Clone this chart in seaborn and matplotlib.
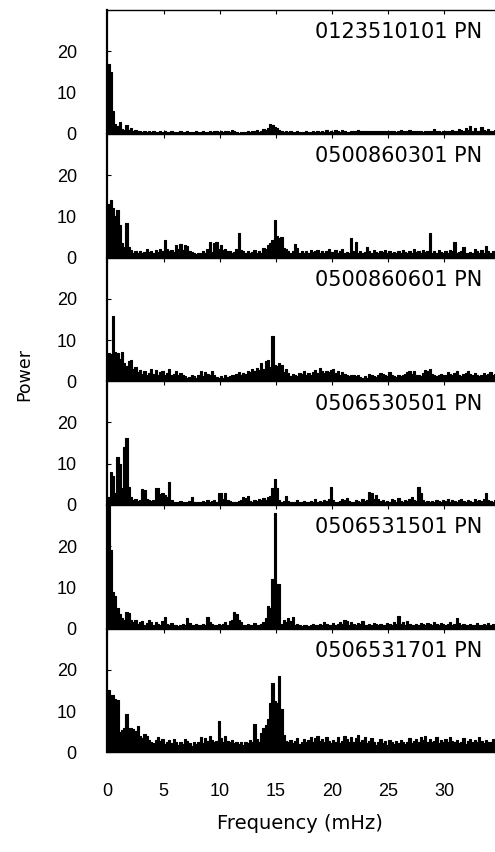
import numpy as np
import pandas as pd
import matplotlib
matplotlib.use('Agg')
import matplotlib.pyplot as plt
import seaborn as sns

sns.set_style('ticks', {'axes.edgecolor': 'black', 'xtick.color': 'black',
                        'ytick.color': 'black', 'text.color': 'black'})
plt.rcParams['font.family'] = ['DejaVu Sans']

# frequency bins (mHz), 0.2 mHz wide
bin_width = 0.2
n_bins = 174

obs_ids = ['0123510101 PN', '0500860301 PN', '0500860601 PN',
           '0506530501 PN', '0506531501 PN', '0506531701 PN']

# power per bin (10 bins = 2 mHz per row)
p1 = [17, 15, 5.5, 2.5, 2, 3, 1.2, 1, 2.2, 1,
      1.5, 0.8, 1, 0.6, 0.8, 0.5, 0.6, 0.4, 0.7, 0.5,
      0.6, 0.5, 0.4, 0.7, 0.5, 0.6, 0.4, 0.5, 0.8, 0.5,
      0.5, 0.4, 0.6, 0.5, 0.4, 0.6, 0.5, 0.4, 0.5, 0.6,
      0.4, 0.5, 0.7, 0.5, 0.4, 0.6, 0.5, 0.8, 0.6, 0.5,
      0.6, 0.5, 0.8, 0.6, 0.5, 1.0, 0.6, 0.5, 0.3, 0.4,
      0.5, 0.4, 0.6, 0.5, 0.8, 0.6, 0.9, 0.5, 0.7, 1.2,
      0.9, 1.5, 2.5, 2.2, 1.6, 1.4, 1.0, 0.6, 0.5, 0.6,
      0.5, 0.6, 0.5, 0.4, 0.6, 0.5, 0.5, 0.4, 0.6, 0.5,
      0.4, 0.6, 0.5, 0.7, 0.5, 0.6, 0.4, 0.9, 0.5, 0.6,
      0.5, 1.0, 0.6, 0.5, 0.9, 0.6, 0.5, 0.4, 0.6, 0.7,
      0.6, 0.9, 0.7, 0.6, 0.8, 0.7, 0.6, 0.8, 0.7, 0.6,
      0.7, 0.8, 0.6, 0.7, 0.6, 0.8, 0.7, 0.6, 0.5, 0.7,
      0.9, 0.7, 0.6, 0.8, 1.0, 0.7, 0.6, 0.8, 0.6, 0.7,
      0.5, 0.6, 0.8, 0.7, 0.6, 1.1, 0.7, 0.6, 0.5, 0.7,
      0.6, 0.8, 0.6, 1.0, 0.7, 0.8, 1.2, 0.9, 0.6, 1.5,
      1.0, 1.8, 0.8, 1.4, 0.7, 0.6, 1.6, 0.9, 0.7, 1.2,
      0.8, 0.6, 1.0, 0.7]

p2 = [13, 14, 12, 10, 11.5, 8, 3.5, 2.5, 8.4, 2.5,
      1.8, 1.2, 1.5, 1.0, 1.6, 1.2, 1.4, 2.0, 1.3, 1.5,
      1.2, 1.8, 1.4, 2.2, 1.6, 4.3, 2.0, 1.5, 1.8, 1.4,
      3.0, 2.2, 3.2, 1.8, 3.0, 2.8, 1.5, 1.3, 1.0, 0.8,
      1.2, 1.0, 1.6, 1.2, 2.0, 3.8, 1.4, 3.6, 3.8, 2.2,
      3.0, 1.8, 2.2, 1.6, 1.5, 1.2, 1.4, 2.2, 6.0, 1.8,
      1.5, 1.2, 1.6, 1.0, 1.4, 1.8, 1.2, 1.5, 1.0, 2.4,
      2.2, 3.0, 3.6, 4.2, 9.2, 5.2, 4.8, 5.0, 2.4, 2.0,
      1.5, 1.2, 1.6, 3.4, 2.4, 1.2, 1.5, 1.0, 1.6, 1.2,
      1.8, 1.4, 1.5, 1.8, 1.0, 1.6, 1.2, 1.5, 2.0, 1.3,
      1.4, 1.8, 1.0, 1.6, 2.2, 1.2, 1.4, 1.0, 4.8, 1.5,
      3.8, 1.2, 1.5, 1.0, 1.4, 2.6, 1.6, 1.2, 1.8, 1.4,
      1.0, 1.5, 1.3, 1.8, 1.2, 1.5, 1.0, 1.4, 1.2, 1.6,
      1.2, 1.8, 1.4, 1.0, 1.5, 1.2, 2.0, 1.4, 1.5, 1.2,
      1.8, 1.4, 1.6, 6.0, 1.2, 1.5, 1.0, 1.8, 1.4, 1.2,
      1.6, 1.2, 1.8, 1.5, 3.8, 1.2, 1.4, 1.6, 2.6, 1.2,
      1.0, 1.4, 1.2, 2.2, 1.5, 1.0, 1.8, 1.2, 2.8, 1.5,
      1.2, 1.6, 1.0, 1.4]

p3 = [6.8, 6.5, 15.8, 7, 6.8, 5.5, 7.2, 4.4, 3.8, 4.8,
      5.2, 3.0, 3.4, 2.2, 2.8, 1.8, 2.5, 1.5, 2.0, 3.0,
      1.8, 2.8, 1.5, 2.2, 2.5, 1.6, 2.0, 3.0, 1.4, 1.8,
      2.6, 1.5, 2.0, 1.4, 1.2, 0.8, 1.0, 1.4, 1.2, 0.9,
      1.6, 2.5, 1.2, 2.2, 1.8, 1.4, 2.6, 1.5, 1.0, 0.8,
      1.2, 0.9, 1.4, 1.0, 1.2, 1.6, 1.5, 1.8, 2.2, 1.6,
      2.0, 1.8, 2.4, 2.2, 3.0, 2.5, 3.2, 2.8, 4.5, 3.0,
      4.8, 5.2, 3.5, 11.0, 4.0, 3.6, 4.4, 4.0, 2.2, 3.0,
      2.0, 1.2, 1.8, 1.5, 1.2, 2.0, 1.8, 2.4, 1.6, 2.0,
      1.5, 2.2, 2.8, 2.0, 3.2, 2.6, 2.0, 2.4, 2.2, 2.8,
      3.0, 2.0, 2.4, 1.6, 2.2, 1.8, 1.4, 1.2, 1.6, 1.5,
      1.2, 1.4, 1.0, 0.8, 1.2, 0.9, 1.8, 1.4, 1.2, 1.0,
      1.5, 2.0, 1.8, 1.5, 1.2, 2.2, 1.6, 1.2, 1.0, 1.4,
      1.2, 1.6, 1.8, 2.2, 2.6, 1.8, 2.4, 1.6, 1.4, 1.2,
      2.0, 2.8, 2.4, 3.0, 1.8, 1.6, 1.2, 1.4, 1.8, 1.5,
      1.6, 2.2, 1.8, 1.4, 2.0, 2.4, 1.6, 1.2, 1.8, 2.0,
      2.6, 1.8, 1.4, 2.0, 1.6, 1.2, 1.5, 2.0, 1.6, 1.8,
      2.2, 1.4, 1.8, 1.2]

p4 = [2.0, 8.0, 7.0, 3.0, 11.6, 10.0, 4.0, 14.0, 16.2, 4.4,
      2.0, 1.2, 1.5, 1.0, 1.2, 3.8, 3.6, 1.5, 1.2, 1.0,
      1.2, 4.2, 4.0, 2.6, 2.8, 2.4, 2.0, 5.5, 1.2, 0.8,
      0.6, 0.8, 1.0, 0.6, 0.8, 0.7, 1.0, 2.0, 0.8, 0.6,
      0.7, 0.6, 0.9, 0.8, 1.2, 0.7, 1.0, 1.2, 0.8, 2.8,
      2.8, 1.4, 3.0, 1.2, 1.0, 0.8, 0.6, 0.8, 1.0, 1.2,
      2.0, 1.8, 2.2, 1.0, 0.8, 1.2, 1.0, 1.5, 1.2, 1.8,
      1.2, 2.0, 2.2, 4.0, 6.4, 4.0, 1.2, 0.8, 1.0, 2.2,
      1.0, 0.8, 0.6, 0.8, 1.2, 0.8, 0.6, 1.0, 0.8, 0.7,
      1.0, 0.8, 1.5, 0.8, 1.0, 0.8, 1.2, 1.0, 1.4, 4.4,
      1.2, 0.8, 0.6, 1.0, 1.5, 1.2, 1.6, 1.0, 0.8, 0.6,
      1.2, 1.0, 0.8, 1.4, 1.0, 1.2, 3.2, 3.0, 1.5, 2.5,
      1.5, 1.0, 1.2, 0.8, 1.0, 0.8, 1.4, 1.2, 0.8, 1.6,
      1.0, 0.8, 1.2, 1.0, 1.4, 2.0, 1.2, 1.0, 4.4, 3.0,
      1.2, 0.8, 1.0, 0.6, 1.0, 0.8, 1.2, 1.0, 0.8, 1.2,
      1.0, 1.4, 0.8, 1.2, 1.0, 0.8, 1.2, 1.4, 1.0, 0.8,
      1.2, 1.0, 0.8, 1.5, 1.0, 1.2, 1.0, 1.4, 2.8, 1.2,
      1.0, 0.8, 1.2, 2.2]

p5 = [30, 19, 9.0, 8.0, 5.0, 3.5, 2.5, 2.0, 4.0, 3.8,
      2.0, 1.5, 2.2, 1.2, 1.5, 1.8, 1.0, 1.4, 2.2, 1.6,
      1.0, 1.5, 1.2, 0.8, 1.8, 2.8, 1.2, 1.0, 1.4, 0.8,
      1.0, 0.6, 0.8, 1.2, 1.0, 2.5, 1.4, 0.8, 1.0, 1.2,
      0.8, 1.0, 1.2, 1.0, 2.8, 1.5, 1.2, 0.8, 1.0, 1.2,
      0.8, 1.2, 1.5, 1.0, 1.8, 2.2, 4.0, 3.5, 2.2, 1.5,
      1.0, 0.8, 1.2, 1.0, 0.8, 1.4, 1.0, 0.8, 1.2, 1.5,
      2.5, 5.6, 5.0, 12.0, 28.0, 10.8, 10.8, 1.2, 2.0, 1.5,
      2.5, 1.8, 2.8, 1.0, 1.2, 0.8, 0.6, 0.8, 1.0, 0.7,
      0.8, 1.2, 1.0, 0.8, 1.2, 1.0, 1.5, 1.2, 0.8, 1.0,
      1.4, 1.0, 1.2, 1.6, 1.2, 2.2, 1.8, 1.0, 1.5, 1.2,
      1.0, 1.4, 1.2, 1.8, 1.0, 0.8, 1.2, 1.0, 1.4, 1.2,
      1.0, 1.2, 0.8, 1.0, 1.4, 1.2, 1.0, 1.6, 1.2, 3.0,
      1.2, 1.5, 1.0, 1.8, 1.2, 1.0, 0.8, 1.2, 1.0, 1.4,
      1.2, 1.0, 1.4, 1.2, 1.0, 1.6, 1.2, 1.0, 1.4, 1.2,
      1.0, 1.2, 1.5, 1.0, 1.2, 2.5, 1.4, 1.0, 1.2, 0.8,
      1.0, 1.2, 0.8, 1.0, 1.4, 1.0, 0.8, 1.2, 1.0, 1.4,
      1.0, 1.2, 0.8, 1.0]

p6 = [15, 14, 14, 13, 12.8, 5.0, 5.5, 6.0, 9.2, 5.8,
      5.8, 5.6, 5.2, 6.4, 4.0, 3.5, 4.5, 4.0, 3.0, 2.6,
      2.2, 3.0, 3.6, 2.8, 3.2, 2.0, 2.6, 3.0, 2.2, 3.2,
      2.4, 1.8, 2.6, 2.0, 3.2, 2.8, 2.2, 1.6, 2.4, 2.0,
      2.6, 3.6, 2.2, 3.4, 2.8, 4.0, 3.0, 2.4, 2.8, 7.6,
      3.4, 2.6, 4.0, 2.8, 2.4, 3.0, 2.2, 2.6, 2.0, 2.4,
      1.8, 2.6, 2.2, 3.0, 2.4, 6.8, 3.2, 2.6, 4.8, 5.8,
      6.6, 8.0, 12.0, 16.9, 12.4, 12.0, 18.5, 10.4, 4.2, 2.8,
      2.4, 3.0, 2.2, 2.8, 3.4, 2.0, 2.6, 3.2, 2.4, 3.0,
      3.8, 2.6, 3.4, 4.0, 2.8, 3.2, 2.4, 3.6, 2.8, 2.2,
      3.0, 2.4, 3.6, 2.2, 2.8, 4.0, 3.2, 2.6, 3.8, 2.4,
      3.4, 4.2, 2.6, 3.0, 3.8, 2.2, 2.8, 3.4, 2.4, 1.8,
      2.6, 3.2, 2.2, 2.8, 1.8, 3.0, 2.4, 2.0, 2.8, 2.2,
      3.0, 2.6, 2.0, 2.4, 3.4, 2.2, 2.8, 3.2, 2.6, 3.6,
      3.0, 4.0, 2.6, 3.2, 2.4, 2.8, 3.6, 2.2, 3.0, 2.6,
      3.2, 2.4, 3.8, 2.8, 2.4, 3.0, 2.2, 2.6, 3.4, 2.0,
      2.8, 3.2, 2.4, 3.0, 2.6, 3.6, 2.8, 2.2, 3.0, 2.4,
      2.6, 3.2, 2.4, 2.8]

spectra = [p1, p2, p3, p4, p5, p6]

freq = np.arange(n_bins) * bin_width + bin_width / 2

fig, axes = plt.subplots(6, 1, sharex=True, figsize=(4.95, 8.52), dpi=100)
fig.subplots_adjust(left=0.217, right=1.0, top=0.988, bottom=0.117, hspace=0)

tick_font = {'family': 'Liberation Sans', 'size': 13}

for ax, obs, pw in zip(axes, obs_ids, spectra):
    df = pd.DataFrame({'freq': freq, 'power': pw})
    sns.histplot(data=df, x='freq', weights='power', binwidth=bin_width,
                 binrange=(0, n_bins * bin_width),
                 element='step', fill=True, color='black', alpha=1,
                 linewidth=0.8, ax=ax)
    ax.set_xlim(0, 34.5)
    ax.set_ylim(0, 30)
    ax.set_yticks([0, 10, 20])
    ax.set_yticklabels(['0', '10', '20'], fontdict=tick_font)
    ax.set_xticks([0, 5, 10, 15, 20, 25, 30])
    ax.set_xticklabels(['0', '5', '10', '15', '20', '25', '30'], fontdict=tick_font)
    ax.set_ylabel('')
    ax.set_xlabel('')
    ax.spines['right'].set_visible(False)
    ax.spines['left'].set_linewidth(1.6)
    ax.spines['top'].set_linewidth(1.0)
    ax.spines['bottom'].set_linewidth(1.0)
    ax.tick_params(axis='y', direction='in', length=3, pad=22)
    ax.tick_params(axis='x', direction='in', length=3, top=True, bottom=True,
                   pad=22)
    ax.text(0.966, 0.82, obs, transform=ax.transAxes, ha='right', va='center',
            fontsize=15)

fig.text(0.048, 0.561, 'Power', rotation=90, ha='center', va='center', fontsize=12.5)
fig.text(0.606, 0.033, 'Frequency (mHz)', ha='center', va='center', fontsize=14)

fig.savefig('out.png', dpi=100)
